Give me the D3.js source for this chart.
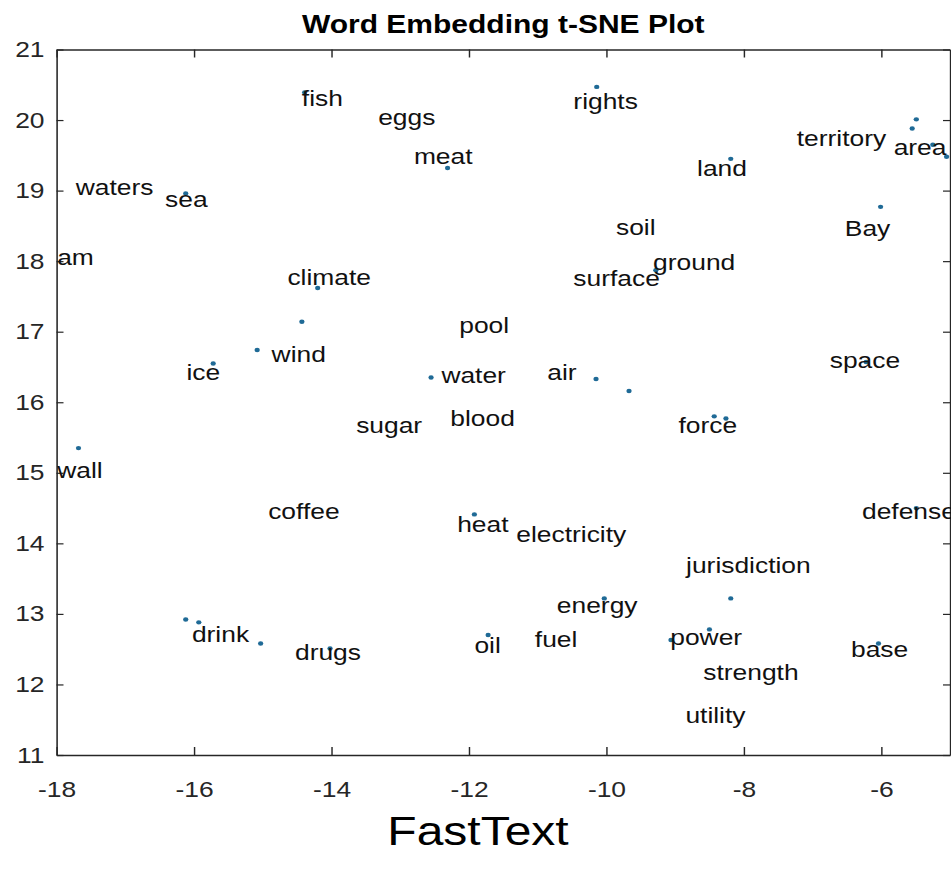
<!DOCTYPE html>
<html>
<head>
<meta charset="utf-8">
<script src="https://cdn.jsdelivr.net/npm/d3@7"></script>
<style>
  html, body { margin: 0; padding: 0; background: #ffffff; }
  svg { display: block; }
</style>
</head>
<body>
<div id="chart"></div>
<script>
// ---------------- data ----------------
const titleText = "Word Embedding t-SNE Plot";
const captionText = "FastText";
const xDomain = [-18, -5];
const yDomain = [11, 21];
const xTicks = [-18, -16, -14, -12, -10, -8, -6];
const yTicks = [11, 12, 13, 14, 15, 16, 17, 18, 19, 20, 21];

// scatter points
const pointX = [-14.39, -14.20, -14.43, -15.08, -15.72, -16.12, -10.14, -12.31, -12.55, -10.15,
                -9.67, -8.19, -5.49, -5.55, -5.25, -5.05, -6.01, -6.22, -17.68, -16.12,
                -15.93, -15.03, -14.02, -11.92, -10.03, -11.72, -8.43, -8.26, -8.19, -8.50,
                -9.06, -6.04, -5.49, -9.28];
const pointY = [20.39, 17.62, 17.14, 16.74, 16.55, 18.96, 20.47, 19.32, 16.35, 16.33,
                16.16, 19.45, 20.01, 19.88, 19.65, 19.48, 18.77, 16.57, 15.35, 12.92,
                12.88, 12.58, 12.51, 14.41, 13.22, 12.70, 15.80, 15.77, 13.22, 12.78,
                12.63, 12.58, 14.50, 17.87];

// word labels (left edge, vertical middle)
const words = ["fish", "waters", "sea", "am", "climate", "wind", "ice",
               "rights", "eggs", "meat", "soil", "surface", "pool", "water", "air",
               "territory", "area", "land", "Bay", "ground", "space",
               "wall", "coffee", "drink", "drugs",
               "sugar", "blood", "heat", "electricity", "energy", "fuel", "oil",
               "force", "defense", "jurisdiction", "power", "strength", "utility", "base"];
const wordX = [-14.43, -17.72, -16.42, -17.99, -14.64, -14.87, -16.11,
               -10.48, -13.32, -12.80, -9.86, -10.48, -12.14, -12.40, -10.86,
               -7.23, -5.82, -8.68, -6.53, -9.32, -6.75,
               -17.99, -14.92, -16.03, -14.53,
               -13.64, -12.27, -12.17, -11.31, -10.72, -11.04, -11.92,
               -8.95, -6.28, -8.84, -9.07, -8.59, -8.85, -6.44];
const wordY = [20.31, 19.05, 18.88, 18.05, 17.77, 16.68, 16.42,
               20.27, 20.04, 19.48, 18.48, 17.76, 17.09, 16.38, 16.42,
               19.74, 19.61, 19.31, 18.46, 17.98, 16.59,
               15.03, 14.46, 12.71, 12.45,
               15.67, 15.77, 14.27, 14.13, 13.12, 12.64, 12.55,
               15.67, 14.46, 13.69, 12.67, 12.17, 11.56, 12.50];

// ---------------- layout ----------------
const W = 951, H = 874;
const S = 1.2;                 // horizontal stretch of the original picture
const IW = W / S;              // inner (unstretched) width
const plot = { left: 56.5 / S, right: 950 / S, top: 49.5, bottom: 755 };
const font = "'Liberation Sans', Arial, Helvetica, sans-serif";
const axisColor = "#262626";

const svg = d3.select("#chart").append("svg")
  .attr("width", W).attr("height", H)
  .attr("viewBox", `0 0 ${IW} ${H}`)
  .attr("preserveAspectRatio", "none");

svg.append("rect").attr("x", 0).attr("y", 0).attr("width", IW).attr("height", H).attr("fill", "#fff");

const x = d3.scaleLinear().domain(xDomain).range([plot.left, plot.right]);
const y = d3.scaleLinear().domain(yDomain).range([plot.bottom, plot.top]);

const tickV = 8;          // vertical tick length (px)
const tickH = 7 / S;      // horizontal tick length (inner units)

function styleAxis(g) {
  g.selectAll("path.domain").attr("stroke", axisColor).attr("stroke-width", 1.3);
  g.selectAll(".tick line").attr("stroke", axisColor).attr("stroke-width", 1.2);
  g.selectAll(".tick text").attr("fill", axisColor)
    .attr("font-family", font).attr("font-size", 22);
}

// bottom axis
svg.append("g").attr("transform", `translate(0,${plot.bottom})`)
  .call(d3.axisBottom(x).tickValues(xTicks).tickSizeInner(-tickV).tickSizeOuter(0)
        .tickPadding(26).tickFormat(d => String(d)))
  .call(styleAxis);
// top axis
svg.append("g").attr("transform", `translate(0,${plot.top})`)
  .call(d3.axisTop(x).tickValues(xTicks).tickSizeInner(-tickV).tickSizeOuter(0).tickFormat(""))
  .call(styleAxis);
// left axis
svg.append("g").attr("transform", `translate(${plot.left},0)`)
  .call(d3.axisLeft(y).tickValues(yTicks).tickSizeInner(-tickH).tickSizeOuter(0)
        .tickPadding(10).tickFormat(d => String(d)))
  .call(styleAxis);
// right axis
svg.append("g").attr("transform", `translate(${plot.right},0)`)
  .call(d3.axisRight(y).tickValues(yTicks).tickSizeInner(-tickH).tickSizeOuter(0).tickFormat(""))
  .call(styleAxis);

// points
const points = pointX.map((v, i) => ({ x: v, y: pointY[i] }));
svg.append("g").selectAll("circle").data(points).join("circle")
  .attr("cx", d => x(d.x)).attr("cy", d => y(d.y))
  .attr("r", 2.2).attr("fill", "#1f6a96");

// word labels
const labels = words.map((w, i) => ({ w, x: wordX[i], y: wordY[i] }));
svg.append("g").selectAll("text").data(labels).join("text")
  .attr("x", d => x(d.x)).attr("y", d => y(d.y))
  .attr("dominant-baseline", "central")
  .attr("font-family", font).attr("font-size", 22).attr("fill", "#111")
  .text(d => d.w);

// title
svg.append("text")
  .attr("x", (plot.left + plot.right) / 2).attr("y", 33)
  .attr("text-anchor", "middle")
  .attr("font-family", font).attr("font-size", 25).attr("font-weight", "bold")
  .attr("fill", "#000")
  .text(titleText);

// caption
svg.append("text")
  .attr("x", 478 / S).attr("y", 845)
  .attr("text-anchor", "middle")
  .attr("font-family", font).attr("font-size", 40)
  .attr("fill", "#000")
  .text(captionText);
</script>
</body>
</html>
